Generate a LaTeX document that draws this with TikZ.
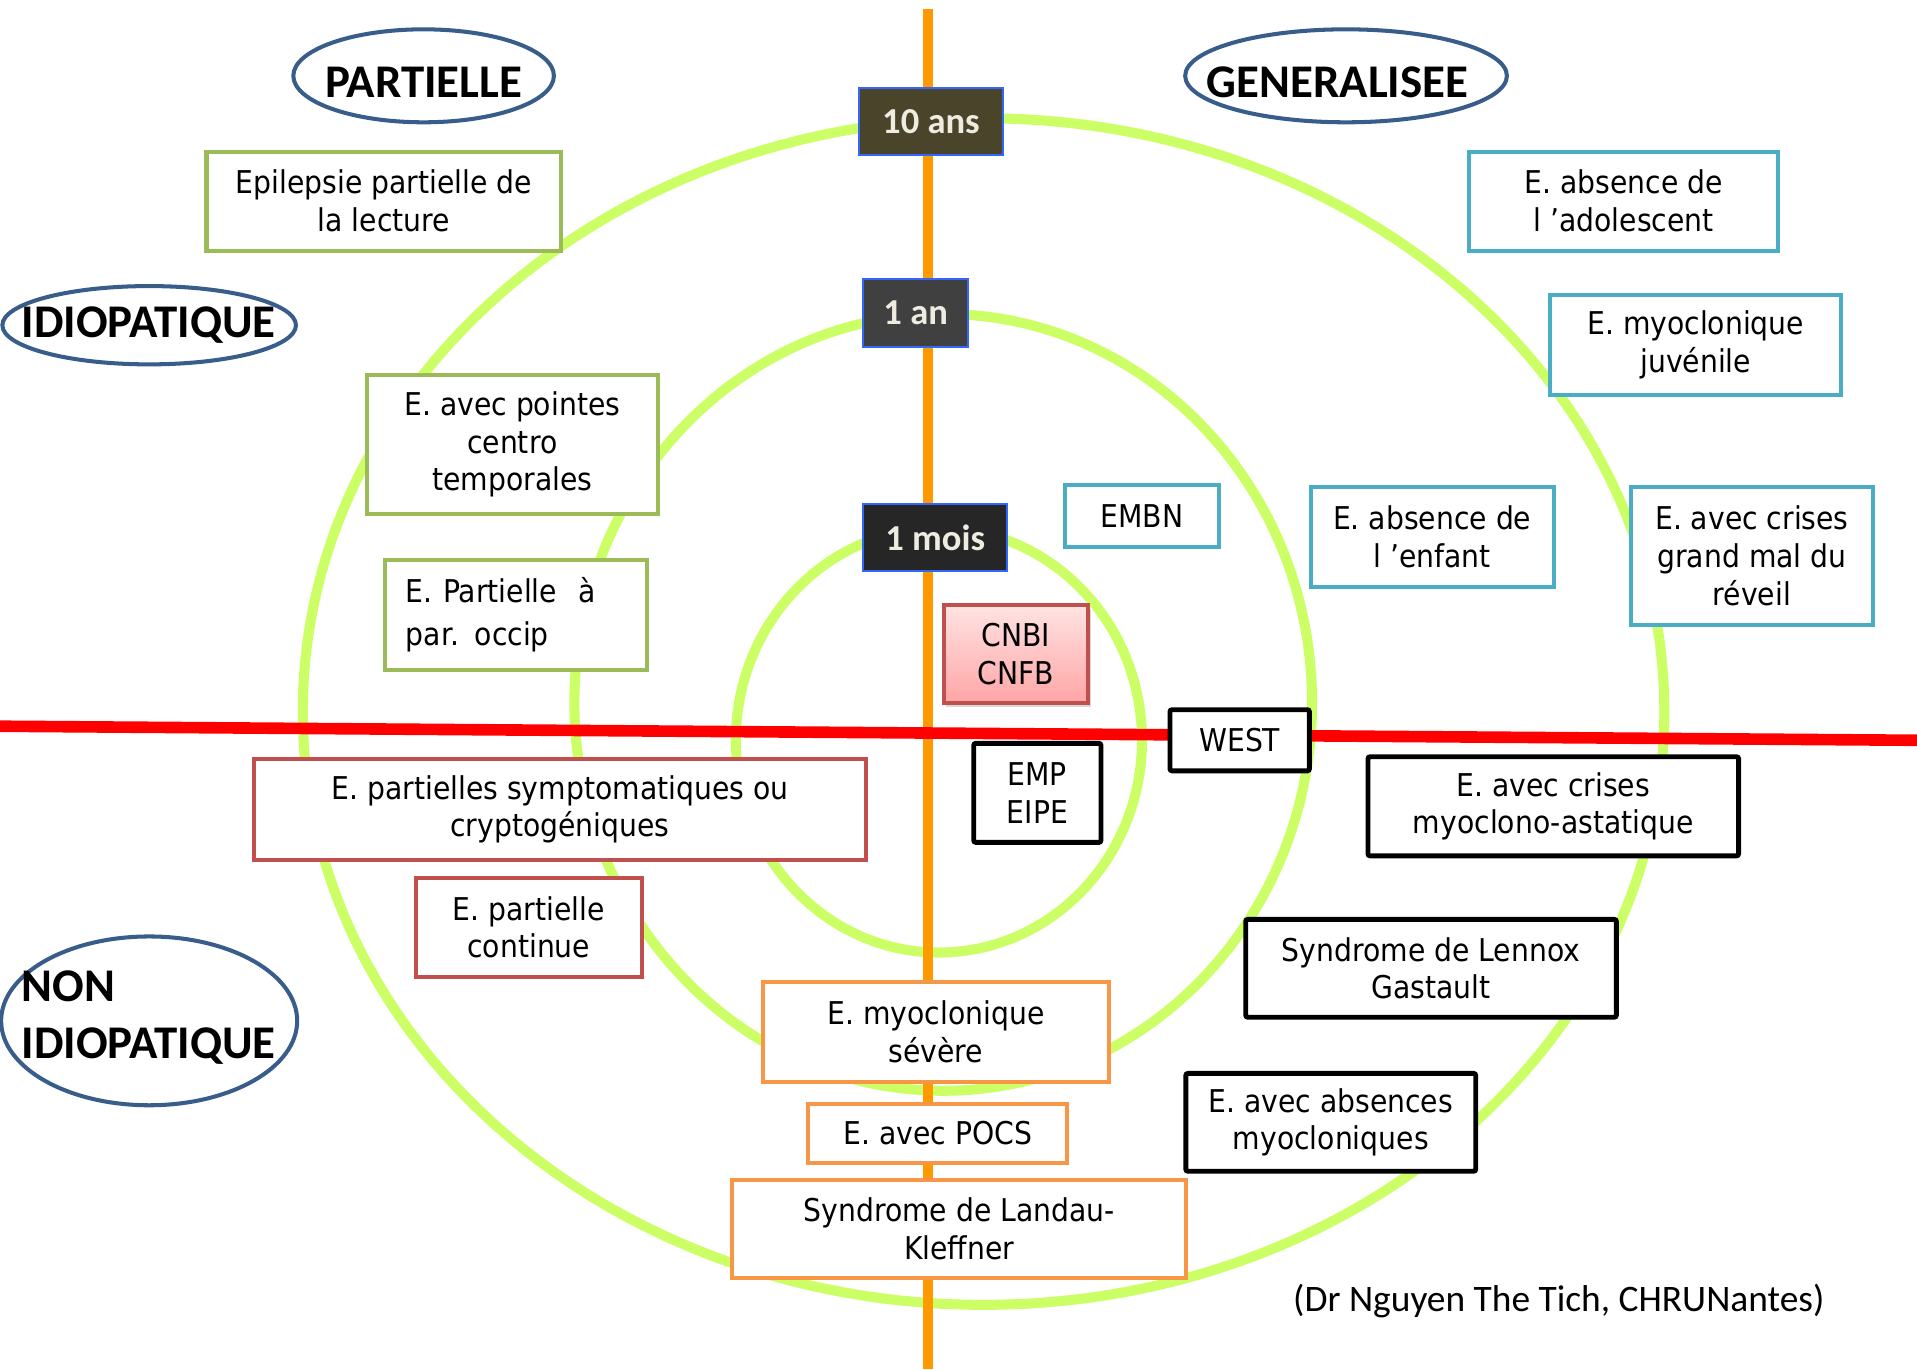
\documentclass[tikz,border=0pt]{standalone}
\usepackage{fontspec}
\setmainfont{DejaVu Sans}[FakeStretch=0.9]
\newfontfamily\calibri{Carlito}
\usetikzlibrary{shadows}

\definecolor{ringgreen}{HTML}{CCFF66}
\definecolor{axisorange}{HTML}{FF9900}
\definecolor{catblue}{HTML}{385D8A}
\definecolor{ageblue}{HTML}{3366FF}
\definecolor{agetext}{HTML}{EEECE1}
\definecolor{idiogreen}{HTML}{9BBB59}
\definecolor{geneblue}{HTML}{4BACC6}
\definecolor{sympred}{HTML}{C0504D}
\definecolor{encephorange}{HTML}{F79646}
\definecolor{cnbitop}{HTML}{FFE3E3}
\definecolor{cnbibottom}{HTML}{FFA5A5}

\begin{document}
\begin{tikzpicture}[x=0.01cm,y=-0.01cm,
    ring/.style={draw=ringgreen,line width=0.082cm},
    catshape/.style={draw=catblue,line width=0.033cm},
    cattext/.style={inner sep=0pt,font=\calibri\bfseries\fontsize{10.9}{13.4}\selectfont},
    agebox/.style={draw=ageblue,line width=0.016cm,inner sep=0pt,minimum height=0.55cm,
        text=agetext,font=\calibri\bfseries\fontsize{8.5}{10}\selectfont},
    syndbox/.style={draw,fill=white,line width=0.033cm,inner sep=0pt,align=center,
        font=\fontsize{7.3}{8.8}\selectfont},
    idio/.style={syndbox,draw=idiogreen},
    gene/.style={syndbox,draw=geneblue},
    symp/.style={syndbox,draw=sympred},
    enceph/.style={syndbox,draw=encephorange},
    epil/.style={syndbox,draw=black,line width=0.04cm,rounded corners=0.5pt}]

    \path[fill=white,use as bounding box] (0,0) rectangle (1568,1120);

    % age rings
    \draw[ring] (804.5,582) ellipse [x radius=5.565cm, y radius=4.85cm];
    \draw[ring] (771.5,574.5) ellipse [x radius=3.015cm, y radius=3.175cm];
    \draw[ring] (768,605.5) ellipse [x radius=1.66cm, y radius=1.735cm];

    % axes
    \coordinate (agetop) at (759,7);
    \coordinate (agebottom) at (759,1120);
    \coordinate (splitwest) at (0,594);
    \coordinate (spliteast) at (1568,605.5);
    \draw[axisorange,line width=0.082cm] (agetop) -- (agebottom);
    \draw[red,line width=0.095cm] (splitwest) -- (spliteast);

    % categories
    \draw[catshape] (346.5,62) ellipse [x radius=1.065cm, y radius=0.38cm];
    \node[cattext,anchor=base] (partielle) at (346.5,80) {PARTIELLE};
    \draw[catshape] (1101,62) ellipse [x radius=1.315cm, y radius=0.38cm];
    \node[cattext,anchor=base] (generalisee) at (1094,80) {GENERALISEE};
    \draw[catshape] (122,266) ellipse [x radius=1.2cm, y radius=0.32cm];
    \node[cattext,anchor=base] (idiopatique) at (121.5,276) {IDIOPATIQUE};
    \draw[catshape] (122,835) ellipse [x radius=1.21cm, y radius=0.69cm];
    \node[cattext,anchor=north west,align=left] (nonidiopatique) at (17,793) {NON\\IDIOPATIQUE};

    % ages
    \node[agebox,fill={rgb,255:red,74;green,68;blue,42},minimum width=1.17cm] (dixans) at (761.5,99.5) {10 ans};
    \node[agebox,fill={rgb,255:red,64;green,64;blue,64},minimum width=0.86cm] (unan) at (749,256) {1 an};
    \node[agebox,fill={rgb,255:red,38;green,38;blue,38},minimum width=1.18cm] (unmois) at (765,439.5) {1 mois};

    % partielles idiopathiques
    \node[idio,minimum width=2.90cm,minimum height=0.81cm] (lecture) at (314,164.5) {Epilepsie partielle de\\la lecture};
    \node[idio,minimum width=2.38cm,minimum height=1.13cm] (pointes) at (419,363.5) {E. avec pointes\\centro\\temporales};
    \node[idio,align=left,text width=1.80cm,inner xsep=0.17cm,minimum height=0.90cm,
        font=\fontsize{7.3}{10}\selectfont] (occip) at (422,503) {E. Partielle\ \ à\\par. occip};

    % generalisees idiopathiques
    \node[gene,minimum width=2.52cm,minimum height=0.81cm] (adolescent) at (1328,164.5) {E. absence de\\l ’adolescent};
    \node[gene,minimum width=2.38cm,minimum height=0.82cm] (juvenile) at (1387,282) {E. myoclonique\\juvénile};
    \node[gene,minimum width=1.26cm,minimum height=0.50cm] (embn) at (934,422) {EMBN};
    \node[gene,minimum width=1.99cm,minimum height=0.82cm] (enfant) at (1171.5,439) {E. absence de\\l ’enfant};
    \node[gene,minimum width=1.98cm,minimum height=1.13cm] (reveil) at (1433,454.5) {E. avec crises\\grand mal du\\réveil};
    \node[syndbox,draw=sympred,shading=axis,top color=cnbitop,bottom color=cnbibottom,
        drop shadow={shadow xshift=0.02cm,shadow yshift=-0.03cm,opacity=0.3},
        minimum width=1.18cm,minimum height=0.80cm] (cnbi) at (831,535) {CNBI\\CNFB};

    % non idiopathiques
    \node[epil,minimum width=1.14cm,minimum height=0.50cm] (west) at (1014,605.5) {WEST};
    \node[epil,minimum width=1.04cm,minimum height=0.81cm] (emp) at (848.5,648.5) {EMP\\EIPE};
    \node[epil,minimum width=3.03cm,minimum height=0.81cm] (astatique) at (1270.5,659.5) {E. avec crises\\myoclono-astatique};
    \node[epil,minimum width=3.03cm,minimum height=0.80cm] (lennox) at (1170.5,792) {Syndrome de Lennox\\Gastault};
    \node[epil,minimum width=2.37cm,minimum height=0.80cm] (absences) at (1088.5,918) {E. avec absences\\myocloniques};
    \node[symp,minimum width=5.00cm,minimum height=0.82cm] (cryptogeniques) at (458,662) {E. partielles symptomatiques ou\\cryptogéniques};
    \node[symp,minimum width=1.85cm,minimum height=0.81cm] (continue) at (432.5,758.5) {E. partielle\\continue};
    \node[enceph,minimum width=2.83cm,minimum height=0.82cm] (severe) at (765.5,844) {E. myoclonique\\sévère};
    \node[enceph,minimum width=2.12cm,minimum height=0.48cm] (pocs) at (767,927) {E. avec POCS};
    \node[enceph,minimum width=3.71cm,minimum height=0.80cm] (landau) at (784.5,1005) {Syndrome de Landau-\\Kleffner};

    \node[font=\calibri\fontsize{8.7}{10}\selectfont,inner sep=0pt] (source) at (1275,1064) {(Dr Nguyen The Tich, CHRUNantes)};
\end{tikzpicture}
\end{document}
